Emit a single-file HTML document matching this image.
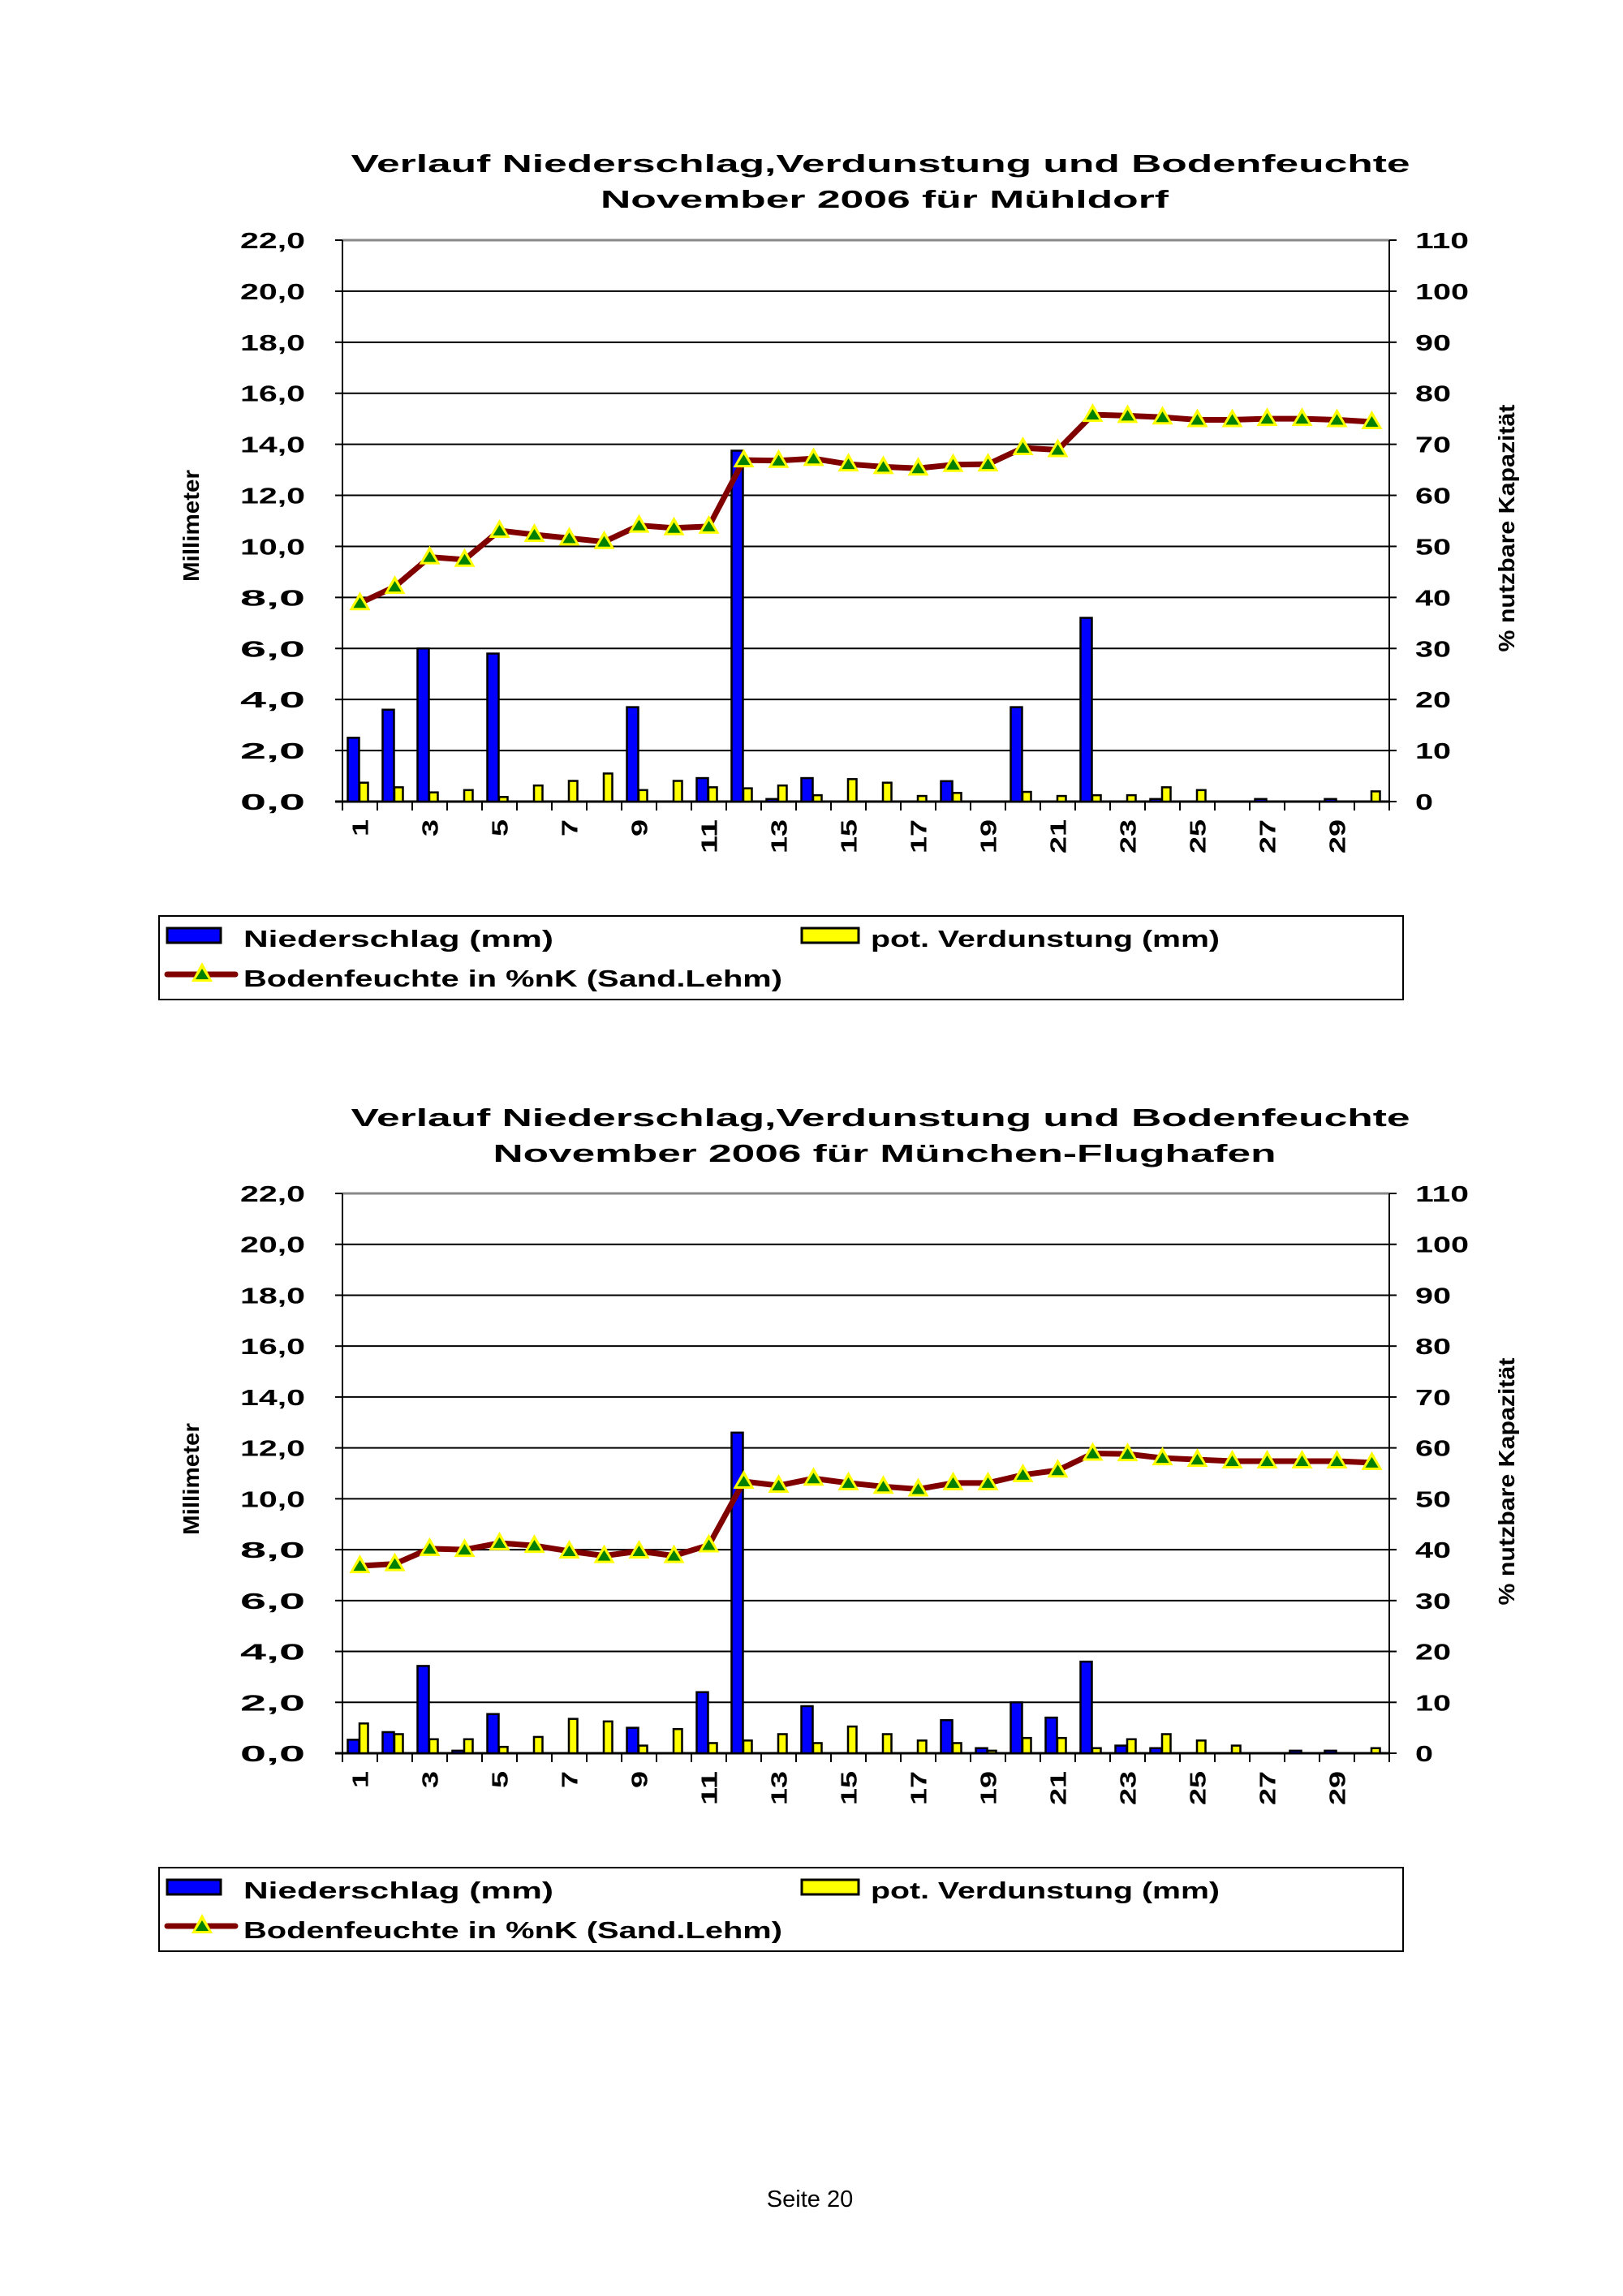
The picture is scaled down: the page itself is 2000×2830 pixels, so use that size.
<!DOCTYPE html>
<html><head><meta charset="utf-8"><style>
html,body{margin:0;padding:0;background:#fff}
svg{display:block}
text{font-family:"Liberation Sans",Arial,sans-serif;font-weight:bold;fill:#000}
</style></head><body>
<svg id="s" width="2000" height="2830" viewBox="0 0 2000 2830" xmlns="http://www.w3.org/2000/svg"></svg>
<script>
const NS="http://www.w3.org/2000/svg";
const S=document.getElementById('s');
function el(t,a,txt){const e=document.createElementNS(NS,t);for(const k in a)e.setAttribute(k,a[k]);if(txt!==undefined)e.textContent=txt;S.appendChild(e);return e;}
const X0=422,X1=1712,DW=(X1-X0)/30;
function chart(top,title2,blue,yel,pct,t1y,legTop,H){
  const base=top+H, pm=H/22;
  const Y=v=>base-v*pm;
  el('text',{x:1085,y:t1y,'text-anchor':'middle','font-size':31,textLength:1305,lengthAdjust:'spacingAndGlyphs'},'Verlauf Niederschlag,Verdunstung und Bodenfeuchte');
  const w2=title2.indexOf('München')>=0?965:700;
  el('text',{x:1090,y:t1y+44,'text-anchor':'middle','font-size':31,textLength:w2,lengthAdjust:'spacingAndGlyphs'},title2);
  for(let i=0;i<=11;i++){
    const y=Y(i*2);
    if(i>0&&i<11) el('line',{x1:X0,x2:X1,y1:y,y2:y,stroke:'#000','stroke-width':2});
    if(i==11) el('line',{x1:X0,x2:X1,y1:y,y2:y,stroke:'#888','stroke-width':3});
    el('line',{x1:X0-9,x2:X0,y1:y,y2:y,stroke:'#000','stroke-width':2});
    el('line',{x1:X1,x2:X1+9,y1:y,y2:y,stroke:'#000','stroke-width':2});
    el('text',{x:376,y:y+10,'text-anchor':'end','font-size':28,textLength:80,lengthAdjust:'spacingAndGlyphs'},(i*2).toFixed(1).replace('.',','));
    const r=String(i*10);
    el('text',{x:1744,y:y+10,'font-size':28,textLength:r.length*22,lengthAdjust:'spacingAndGlyphs'},r);
  }
  el('line',{x1:X0,x2:X0,y1:top,y2:base,stroke:'#000','stroke-width':2});
  el('line',{x1:X1,x2:X1,y1:top,y2:base,stroke:'#000','stroke-width':2});
  el('line',{x1:X0-9,x2:X1,y1:base,y2:base,stroke:'#000','stroke-width':3});
  for(let i=0;i<=30;i++){const x=X0+i*DW;el('line',{x1:x,x2:x,y1:base,y2:base+11,stroke:'#000','stroke-width':2});}
  for(let d=1;d<=29;d+=2){
    const cx=X0+(d-0.5)*DW+10, s=String(d);
    el('text',{x:cx,y:base+22,'text-anchor':'end','font-size':28,transform:`rotate(-90 ${cx} ${base+22})`,textLength:s.length*21,lengthAdjust:'spacingAndGlyphs'},s);
  }
  for(let d=0;d<30;d++){
    const sx=X0+d*DW;
    if(blue[d]>0){const h=blue[d]*pm;el('rect',{x:sx+6.5,y:base-h,width:14,height:h,fill:'#0000ff',stroke:'#000','stroke-width':2.5});}
    if(yel[d]>0){const h=yel[d]*pm;el('rect',{x:sx+21,y:base-h,width:10.5,height:h,fill:'#ffff00',stroke:'#000','stroke-width':2.5});}
  }
  const pts=pct.map((p,i)=>[X0+(i+0.5)*DW,base-p/5*pm]);
  el('polyline',{points:pts.map(p=>p.join(',')).join(' '),fill:'none',stroke:'#800000','stroke-width':7,'stroke-linejoin':'round'});
  pts.forEach(([x,y])=>{
    el('polygon',{points:`${x},${y-14} ${x-13},${y+9} ${x+13},${y+9}`,fill:'#ffff00'});
    el('polygon',{points:`${x},${y-7} ${x-8},${y+6} ${x+8},${y+6}`,fill:'#008000'});
  });
  el('text',{x:245,y:top+352,'text-anchor':'middle','font-size':28,transform:`rotate(-90 245 ${top+352})`,textLength:138,lengthAdjust:'spacingAndGlyphs'},'Millimeter');
  el('text',{x:1866,y:top+355,'text-anchor':'middle','font-size':28,transform:`rotate(-90 1866 ${top+355})`,textLength:305,lengthAdjust:'spacingAndGlyphs'},'% nutzbare Kapazität');
  el('rect',{x:196,y:legTop,width:1533,height:103,fill:'none',stroke:'#000','stroke-width':2});
  el('rect',{x:206,y:legTop+15,width:66,height:18,fill:'#0000ff',stroke:'#000','stroke-width':3});
  el('text',{x:300,y:legTop+38,'font-size':29,textLength:382,lengthAdjust:'spacingAndGlyphs'},'Niederschlag (mm)');
  el('rect',{x:988,y:legTop+15,width:70,height:18,fill:'#ffff00',stroke:'#000','stroke-width':3});
  el('text',{x:1073,y:legTop+38,'font-size':29,textLength:430,lengthAdjust:'spacingAndGlyphs'},'pot. Verdunstung (mm)');
  const ly=legTop+72;
  el('line',{x1:206,x2:290,y1:ly,y2:ly,stroke:'#800000','stroke-width':7,'stroke-linecap':'round'});
  el('polygon',{points:`249,${ly-15} 236,${ly+9} 262,${ly+9}`,fill:'#ffff00'});
  el('polygon',{points:`249,${ly-7} 241,${ly+6} 257,${ly+6}`,fill:'#008000'});
  el('text',{x:300,y:legTop+87,'font-size':29,textLength:664,lengthAdjust:'spacingAndGlyphs'},'Bodenfeuchte in %nK (Sand.Lehm)');
}
chart(296,'November 2006 für Mühldorf',
 [2.5,3.6,6.0,0,5.8,0,0,0,3.7,0,0.92,13.75,0.1,0.92,0,0,0,0.8,0,3.7,0,7.2,0,0.1,0,0,0.1,0,0.1,0],
 [0.74,0.56,0.36,0.45,0.18,0.63,0.81,1.1,0.45,0.81,0.56,0.52,0.63,0.25,0.88,0.74,0.22,0.34,0,0.38,0.22,0.25,0.25,0.56,0.45,0,0,0,0,0.4],
 [38.9,42.1,47.9,47.4,53.1,52.3,51.6,50.9,54.1,53.6,53.9,66.9,66.8,67.2,66.1,65.6,65.3,66,66.1,69.3,68.9,75.8,75.6,75.3,74.8,74.8,75,75,74.8,74.4],
 212,1129,692);
chart(1471,'November 2006 für München-Flughafen',
 [0.53,0.83,3.43,0.1,1.54,0,0,0,1.0,0,2.4,12.6,0,1.85,0,0,0,1.3,0.2,2.0,1.4,3.6,0.3,0.2,0,0,0,0.1,0.1,0],
 [1.17,0.75,0.55,0.55,0.25,0.64,1.35,1.25,0.3,0.95,0.4,0.5,0.75,0.4,1.05,0.75,0.5,0.4,0.1,0.6,0.6,0.2,0.55,0.75,0.5,0.3,0,0,0,0.2],
 [36.8,37.2,40.2,40,41.3,40.8,39.7,38.8,39.7,38.8,40.9,53.4,52.6,54,53.1,52.4,51.9,53.1,53.1,54.7,55.6,58.9,58.8,58,57.7,57.4,57.4,57.4,57.4,57.1],
 1388,2302,690);
el('text',{x:998,y:2720,'text-anchor':'middle','font-size':29,style:'font-weight:normal'},'Seite 20');
</script>
</body></html>
